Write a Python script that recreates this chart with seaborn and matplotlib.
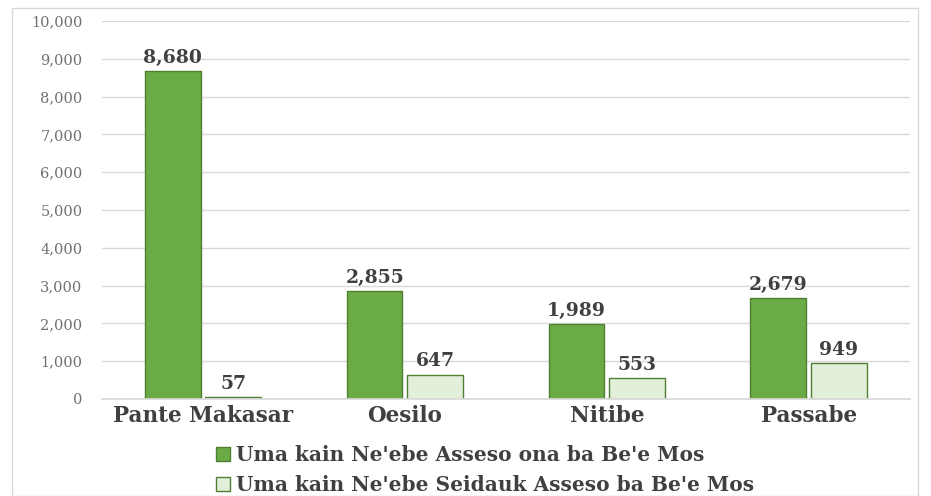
import matplotlib
matplotlib.use("Agg")
import matplotlib.pyplot as plt
import seaborn as sns
import pandas as pd
from matplotlib.patches import Rectangle
from matplotlib.ticker import FuncFormatter

categories = ["Pante Makasar", "Oesilo", "Nitibe", "Passabe"]
series_names = ["Uma kain Ne'ebe Asseso ona ba Be'e Mos",
                "Uma kain Ne'ebe Seidauk Asseso ba Be'e Mos"]
accessed = [8680, 2855, 1989, 2679]
not_accessed = [57, 647, 553, 949]
yticks = list(range(0, 10001, 1000))

df = pd.DataFrame({
    "Postu": categories * 2,
    "Series": [series_names[0]] * 4 + [series_names[1]] * 4,
    "Value": accessed + not_accessed,
})

sns.set_theme(style="white")
plt.rcParams['font.family'] = ['DejaVu Serif', 'Liberation Serif']

fig = plt.figure(figsize=(9.31, 4.96), dpi=100)
ax = fig.add_axes([0.1096, 0.1956, 0.8674, 0.7621])

palette = {series_names[0]: "#6AAB45", series_names[1]: "#E2EFDA"}
sns.barplot(data=df, x="Postu", y="Value", hue="Series", order=categories,
            hue_order=series_names, palette=palette, width=0.6, gap=0.08,
            edgecolor="#4F7F32", linewidth=1.0, saturation=1, ax=ax)

for c in ax.containers:
    ax.bar_label(c, labels=[f"{v:,.0f}" for v in c.datavalues], padding=3,
                 fontsize=13.5, fontweight="bold", color="#404040")

ax.set_ylim(0, 10000)
ax.set_yticks(yticks)
ax.yaxis.set_major_formatter(FuncFormatter(lambda v, p: f"{v:,.0f}"))
ax.tick_params(axis="y", labelsize=10.5, colors="#707070", length=0, pad=14)
ax.tick_params(axis="x", labelsize=15.5, colors="#404040", length=0, pad=4)
for lbl in ax.get_xticklabels():
    lbl.set_fontweight("bold")
ax.grid(axis="y", color="#D9D9D9", linewidth=1)
ax.set_axisbelow(True)
for s in ["top", "right", "left"]:
    ax.spines[s].set_visible(False)
ax.spines["bottom"].set_color("#D9D9D9")
ax.set_xlabel("")
ax.set_ylabel("")
ax.set_xlim(-0.5, 3.5)

leg = ax.legend(loc="center", bbox_to_anchor=(0.521, 0.052),
                bbox_transform=fig.transFigure, ncol=1, frameon=False,
                prop={"size": 14.5, "weight": "bold"}, handlelength=0.7,
                handleheight=0.7, handletextpad=0.3, labelspacing=0.5,
                labelcolor="#404040", borderpad=0)

fig.patches.append(Rectangle((12 / 931, 0.0), 906 / 931, 488 / 496,
                             transform=fig.transFigure, fill=False,
                             edgecolor="#D9D9D9", linewidth=1))

fig.savefig("out.png", dpi=100)
